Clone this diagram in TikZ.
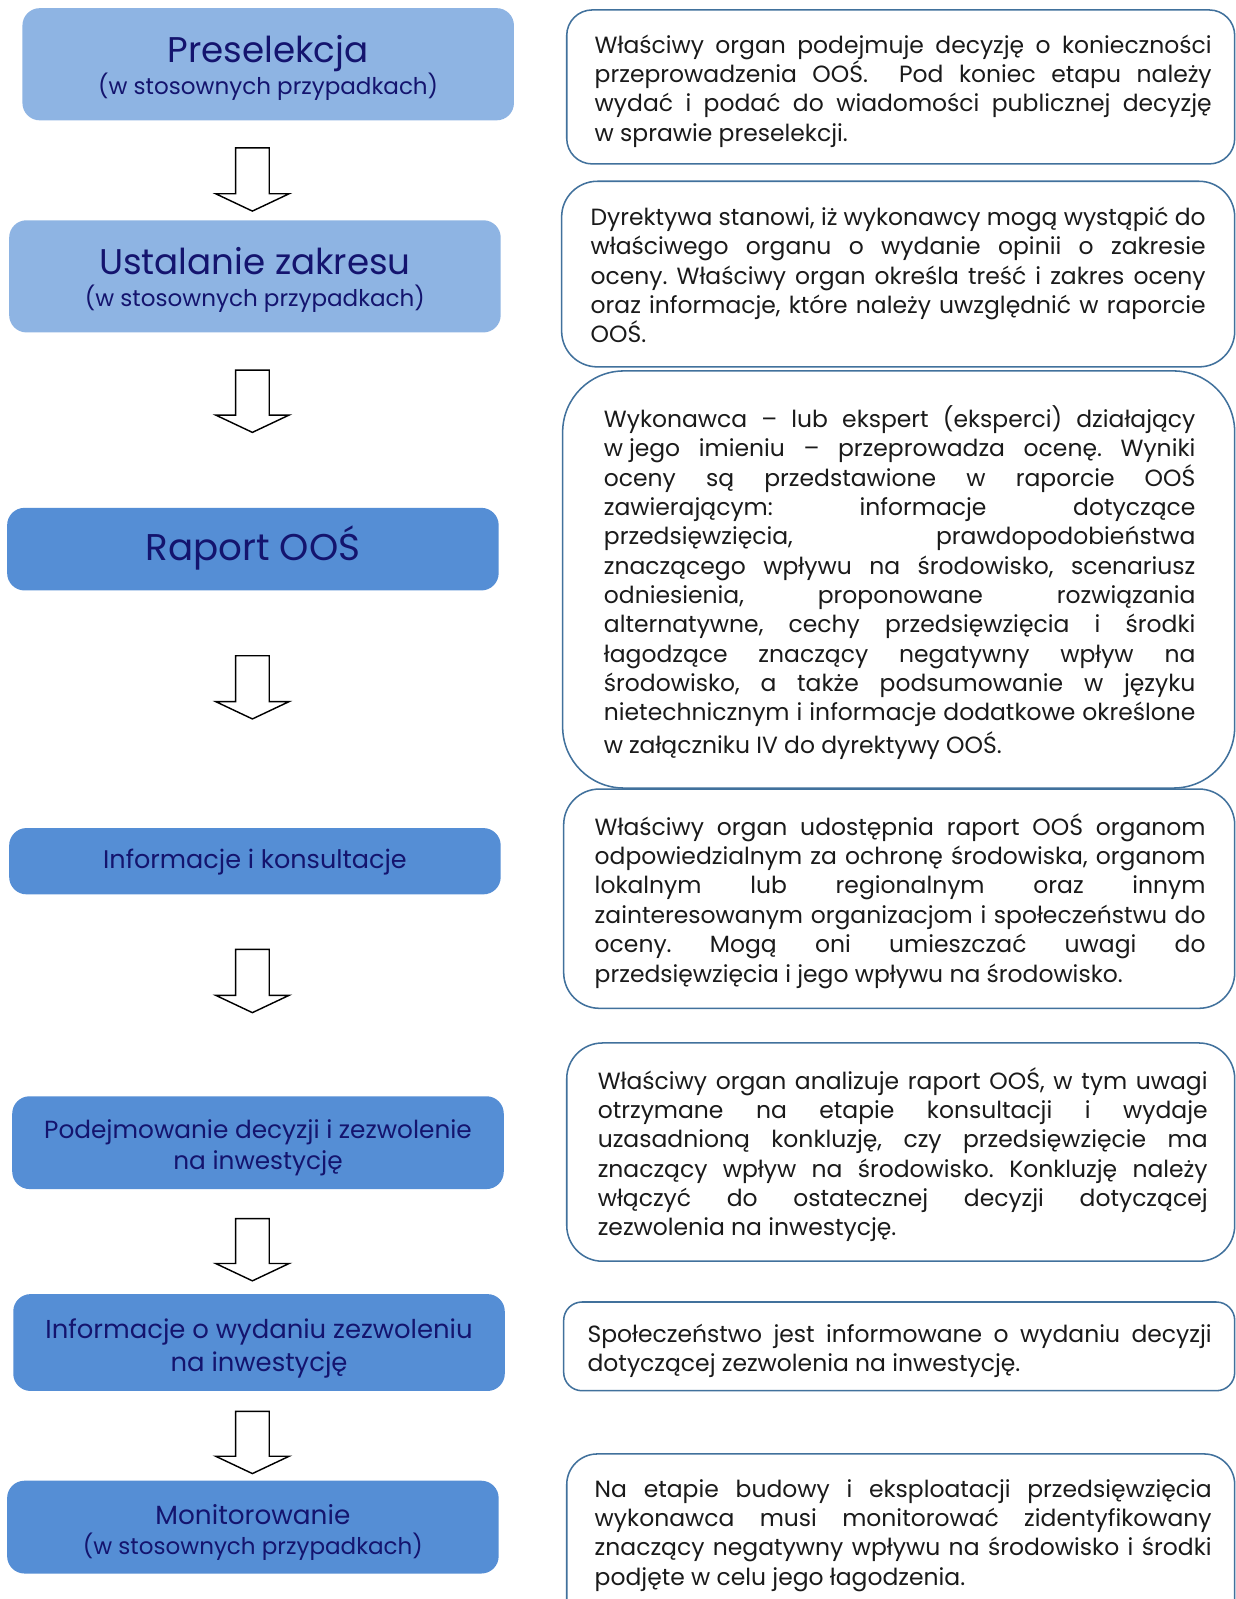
\documentclass[tikz,border=0pt]{standalone}
\usepackage{fontspec}
\setmainfont{Poppins}
\definecolor{lightblue}{HTML}{8EB4E3}
\definecolor{midblue}{HTML}{558ED5}
\definecolor{navy}{HTML}{14146E}
\definecolor{border}{HTML}{41719C}
\definecolor{bodyink}{HTML}{1A1A1A}
\newsavebox\jlbox
\newcommand\jl[1]{\sbox\jlbox{#1}\ifdim\wd\jlbox>\linewidth\resizebox{\linewidth}{\height}{\usebox\jlbox}\else\makebox[\linewidth][s]{#1}\fi}
\newcommand\bodyfnt{\fontsize{23}{28.8}\selectfont\frenchspacing}
\newcommand\blockarr[4]{%
  \coordinate (#1) at (#2,#3);
  \draw[blockarrow] ({#2-16.5},#3) -- ({#2+16.5},#3) -- ({#2+16.5},{#4-17}) -- ({#2+36},{#4-17}) -- (#2,#4) -- ({#2-36},{#4-17}) -- ({#2-16.5},{#4-17}) -- cycle;}
\tikzset{
  stepbox/.style={inner sep=0pt, rounded corners=17pt},
  lightbox/.style={stepbox, fill=lightblue},
  darkbox/.style={stepbox, fill=midblue},
  steptext/.style={anchor=base, inner sep=0pt, text=navy},
  infobox/.style={draw=border, line width=1.5pt, fill=white, inner sep=0pt, anchor=north west},
  bodytext/.style={anchor=base west, inner sep=0pt, text=bodyink, font=\bodyfnt},
  blockarrow/.style={draw=black, line width=1.4pt, fill=white, line join=miter}
}
\begin{document}
\begin{tikzpicture}[x=1pt,y=-1pt]
\path[use as bounding box] (0,0) rectangle (1212,1568);
\clip (0,0) rectangle (1212,1568);
\fill[white] (0,0) rectangle (1212,1568);

% left step boxes
\node[lightbox, minimum width=482pt, minimum height=110pt] (b1) at (263,63) {};
\node[steptext, font=\fontsize{35}{40}\selectfont] (b1t) at (263,61) {Preselekcja};
\node[steptext, font=\fontsize{22.6}{30}\selectfont] (b1s) at (263,93) {(w stosownych przypadkach)};

\node[lightbox, minimum width=482pt, minimum height=110pt] (b2) at (250,271) {};
\node[steptext, font=\fontsize{35}{40}\selectfont] (b2t) at (250,269) {Ustalanie zakresu};
\node[steptext, font=\fontsize{22.6}{30}\selectfont] (b2s) at (250,301) {(w stosownych przypadkach)};

\node[darkbox, minimum width=482pt, minimum height=81pt] (b3) at (248,538.5) {};
\node[steptext, font=\fontsize{36.5}{40}\selectfont] (b3t) at (248,550) {Raport OOŚ};

\node[darkbox, minimum width=482pt, minimum height=65pt] (b4) at (250,844.5) {};
\node[steptext, font=\fontsize{25}{30}\selectfont] (b4t) at (250,852) {Informacje i konsultacje};

\node[darkbox, minimum width=482pt, minimum height=91pt] (b5) at (253,1120.5) {};
\node[steptext, font=\fontsize{24.3}{30}\selectfont] (b5t) at (253,1116) {Podejmowanie decyzji i zezwolenie};
\node[steptext, font=\fontsize{24.3}{30}\selectfont] (b5s) at (253,1147) {na inwestycję};

\node[darkbox, minimum width=482pt, minimum height=95pt] (b6) at (254,1316.5) {};
\node[steptext, font=\fontsize{25.4}{30}\selectfont] (b6t) at (254,1313) {Informacje o wydaniu zezwoleniu};
\node[steptext, font=\fontsize{25.4}{30}\selectfont] (b6s) at (254,1345) {na inwestycję};

\node[darkbox, minimum width=482pt, minimum height=91pt] (b7) at (248,1497.5) {};
\node[steptext, font=\fontsize{25.8}{30}\selectfont] (b7t) at (248,1495) {Monitorowanie};
\node[steptext, font=\fontsize{22.6}{30}\selectfont] (b7s) at (248,1524) {(w stosownych przypadkach)};

% block arrows
\blockarr{a1}{247.5}{145}{207}
\blockarr{a2}{247.5}{363}{424}
\blockarr{a3}{247.5}{643}{705}
\blockarr{a4}{247.5}{931}{993}
\blockarr{a5}{247.5}{1195}{1256}
\blockarr{a6}{247.5}{1384}{1445}

% right info boxes
\node[infobox, rounded corners=25pt, minimum width=655pt, minimum height=151pt] (r1) at (555,9) {};
\node[bodytext] (r1t) at (583,52) {\parbox[t]{605pt}{\bodyfnt
\jl{Właściwy organ podejmuje decyzję o konieczności}\\
\jl{przeprowadzenia OOŚ. \ Pod koniec etapu należy}\\
\jl{wydać i podać do wiadomości publicznej decyzję}\\
w sprawie preselekcji.}};

\node[infobox, rounded corners=35pt, minimum width=660pt, minimum height=182pt] (r2) at (550,177) {};
\node[bodytext] (r2t) at (579,221) {\parbox[t]{603pt}{\bodyfnt
\jl{Dyrektywa stanowi, iż wykonawcy mogą wystąpić do}\\
\jl{właściwego organu o wydanie opinii o zakresie}\\
\jl{oceny. Właściwy organ określa treść i zakres oceny}\\
\jl{oraz informacje, które należy uwzględnić w raporcie}\\
OOŚ.}};

\node[infobox, rounded corners=60pt, minimum width=659pt, minimum height=409pt] (r3) at (551,363) {};
\node[bodytext] (r3t) at (592,419) {\parbox[t]{580pt}{\bodyfnt
\jl{Wykonawca – lub ekspert (eksperci) działający}\\
\jl{w\hspace{0.25em}jego imieniu – przeprowadza ocenę. Wyniki}\\
\jl{oceny są przedstawione w raporcie OOŚ}\\
\jl{zawierającym: informacje dotyczące}\\
\jl{przedsięwzięcia, prawdopodobieństwa}\\
\jl{znaczącego wpływu na środowisko, scenariusz}\\
\jl{odniesienia, proponowane rozwiązania}\\
\jl{alternatywne, cechy przedsięwzięcia i środki}\\
\jl{łagodzące znaczący negatywny wpływ na}\\
\jl{środowisko, a także podsumowanie w języku}\\
\jl{nietechnicznym i informacje dodatkowe określone}\\[3pt]
w\hspace{0.25em}załączniku IV do dyrektywy OOŚ.}};

\node[infobox, rounded corners=35pt, minimum width=658pt, minimum height=215pt] (r4) at (552,773) {};
\node[bodytext] (r4t) at (583,819) {\parbox[t]{599pt}{\bodyfnt
\jl{Właściwy organ udostępnia raport OOŚ organom}\\
\jl{odpowiedzialnym za ochronę środowiska, organom}\\
\jl{lokalnym lub regionalnym oraz innym}\\
\jl{zainteresowanym organizacjom i społeczeństwu do}\\
\jl{oceny. Mogą oni umieszczać uwagi do}\\
przedsięwzięcia i jego wpływu na środowisko.}};

\node[infobox, rounded corners=35pt, minimum width=655pt, minimum height=214pt] (r5) at (555,1022) {};
\node[bodytext] (r5t) at (586,1068) {\parbox[t]{598pt}{\bodyfnt
\jl{Właściwy organ analizuje raport OOŚ, w tym uwagi}\\
\jl{otrzymane na etapie konsultacji i wydaje}\\
\jl{uzasadnioną konkluzję, czy przedsięwzięcie ma}\\
\jl{znaczący wpływ na środowisko. Konkluzję należy}\\
\jl{włączyć do ostatecznej decyzji dotyczącej}\\
zezwolenia na inwestycję.}};

\node[infobox, rounded corners=18pt, minimum width=658pt, minimum height=87pt] (r6) at (552,1276) {};
\node[bodytext] (r6t) at (576,1316) {\parbox[t]{612pt}{\bodyfnt
\jl{Społeczeństwo jest informowane o wydaniu decyzji}\\
dotyczącej zezwolenia na inwestycję.}};

\node[infobox, rounded corners=30pt, minimum width=655pt, minimum height=175pt] (r7) at (555,1425) {};
\node[bodytext] (r7t) at (583,1468) {\parbox[t]{605pt}{\bodyfnt
\jl{Na etapie budowy i eksploatacji przedsięwzięcia}\\
\jl{wykonawca musi monitorować zidentyfikowany}\\
\jl{znaczący negatywny wpływu na środowisko i środki}\\
podjęte w celu jego łagodzenia.}};
\end{tikzpicture}
\end{document}
